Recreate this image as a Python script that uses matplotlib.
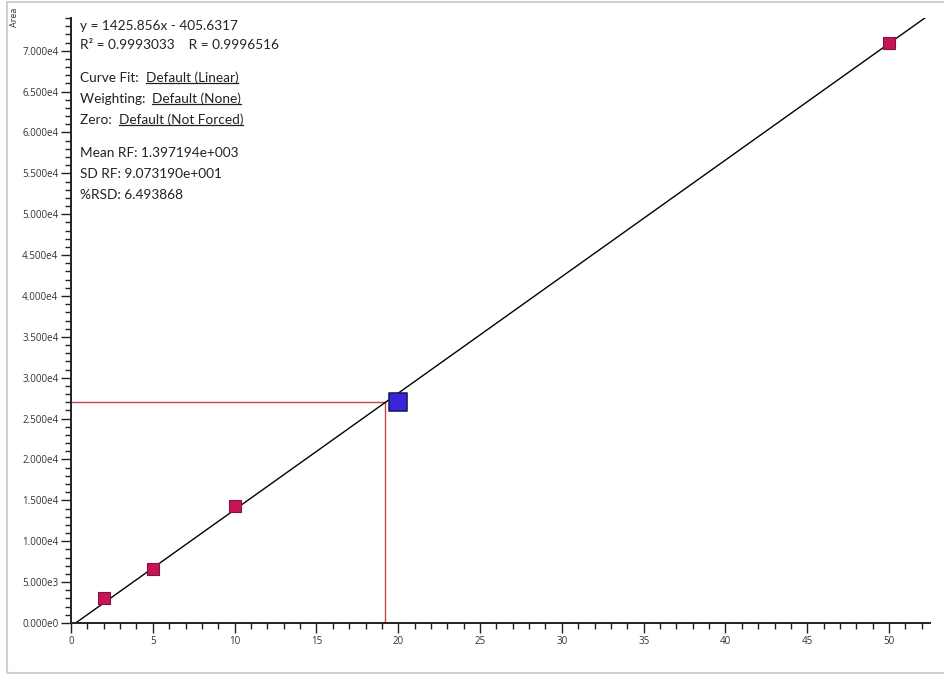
import matplotlib.pyplot as plt
from matplotlib.ticker import MultipleLocator, FuncFormatter
from matplotlib.patches import Rectangle
from matplotlib.lines import Line2D

plt.rcParams['font.family'] = ['Open Sans', 'DejaVu Sans']

# Calibration standards (amount vs. peak area)
std_amount = [2, 5, 10, 50]
std_area = [3049, 6571, 14300, 70988]

# Unknown sample
sample_amount = [20]
sample_area = [27000]

# Fit results
slope = 1425.856
intercept = -405.6317
fit_lines = [
    ('y = 1425.856x - 405.6317', None),
    ('R² = 0.9993033    R = 0.9996516', None),
    ('Curve Fit:  ', 'Default (Linear)'),
    ('Weighting:  ', 'Default (None)'),
    ('Zero:  ', 'Default (Not Forced)'),
    ('Mean RF: 1.397194e+003', None),
    ('SD RF: 9.073190e+001', None),
    ('%RSD: 6.493868', None),
]
line_y_px = [26, 45, 78, 99, 120, 153, 174, 195]

fig = plt.figure(figsize=(9.45, 6.75), dpi=100)
fig.patches.append(Rectangle((7 / 945, 2 / 675), 1, 671 / 675, transform=fig.transFigure,
                             fill=False, edgecolor='#d0d0d0', linewidth=1.5))
ax = fig.add_axes([71 / 945, 52 / 675, 859 / 945, 605 / 675])

xmax, ymax = 52.5, 74000
ax.set_xlim(0, xmax)
ax.set_ylim(0, ymax)

# regression line
x0 = -intercept / slope
ax.plot([x0, xmax], [0, slope * xmax + intercept], color='black', linewidth=1, zorder=2)

# drop lines from the unknown's area to the calculated amount
calc_amount = (sample_area[0] - intercept) / slope
ax.plot([0, calc_amount], [sample_area[0], sample_area[0]], color='#c8464a', linewidth=1, zorder=1)
ax.plot([calc_amount, calc_amount], [0, sample_area[0]], color='#c8464a', linewidth=1, zorder=1)

ax.scatter(std_amount, std_area, marker='s', s=70, color='#c41556', edgecolors='#8a1040',
           linewidths=0.8, zorder=3)
ax.scatter(sample_amount, sample_area, marker='s', s=150, color='#3a26d8', edgecolors='#1c1c6e',
           linewidths=1.2, zorder=3)

for side in ('top', 'right'):
    ax.spines[side].set_visible(False)
for side in ('left', 'bottom'):
    ax.spines[side].set_color('#222222')
    ax.spines[side].set_linewidth(1.4)

ax.xaxis.set_major_locator(MultipleLocator(5))
ax.xaxis.set_minor_locator(MultipleLocator(1))
ax.yaxis.set_major_locator(MultipleLocator(5000))
ax.yaxis.set_minor_locator(MultipleLocator(1000))


def sci_fmt(v, pos):
    if v == 0:
        return '0.000e0'
    e = len(str(int(round(v)))) - 1
    return f'{v / 10 ** e:.3f}e{e}'


ax.yaxis.set_major_formatter(FuncFormatter(sci_fmt))
ax.tick_params(which='major', direction='out', length=7, width=1, color='#222222',
               labelsize=7, labelcolor='#333333', pad=2)
ax.tick_params(which='minor', direction='out', length=4, width=1, color='#222222')

fig.text(15 / 945, 1 - 17 / 675, 'Area', rotation=90, fontsize=6.5, color='#333333',
         ha='center', va='center')

# statistics block
fig.canvas.draw()
renderer = fig.canvas.get_renderer()
stat_font = ['Lato', 'DejaVu Sans']
for (plain, underlined), ypx in zip(fit_lines, line_y_px):
    t = fig.text(80 / 945, 1 - ypx / 675, plain, fontsize=9.8, family=stat_font,
                 color='#222222', va='center')
    if underlined:
        bb = t.get_window_extent(renderer)
        u = fig.text(bb.x1 / 945, 1 - ypx / 675, underlined, fontsize=9.8, family=stat_font,
                     color='#222222', va='center')
        ub = u.get_window_extent(renderer)
        yline = (ub.y0 + 1.5) / 675
        fig.lines.append(Line2D([ub.x0 / 945, ub.x1 / 945], [yline, yline], transform=fig.transFigure,
                                color='#222222', linewidth=0.9))

fig.savefig('out.png', dpi=100)
